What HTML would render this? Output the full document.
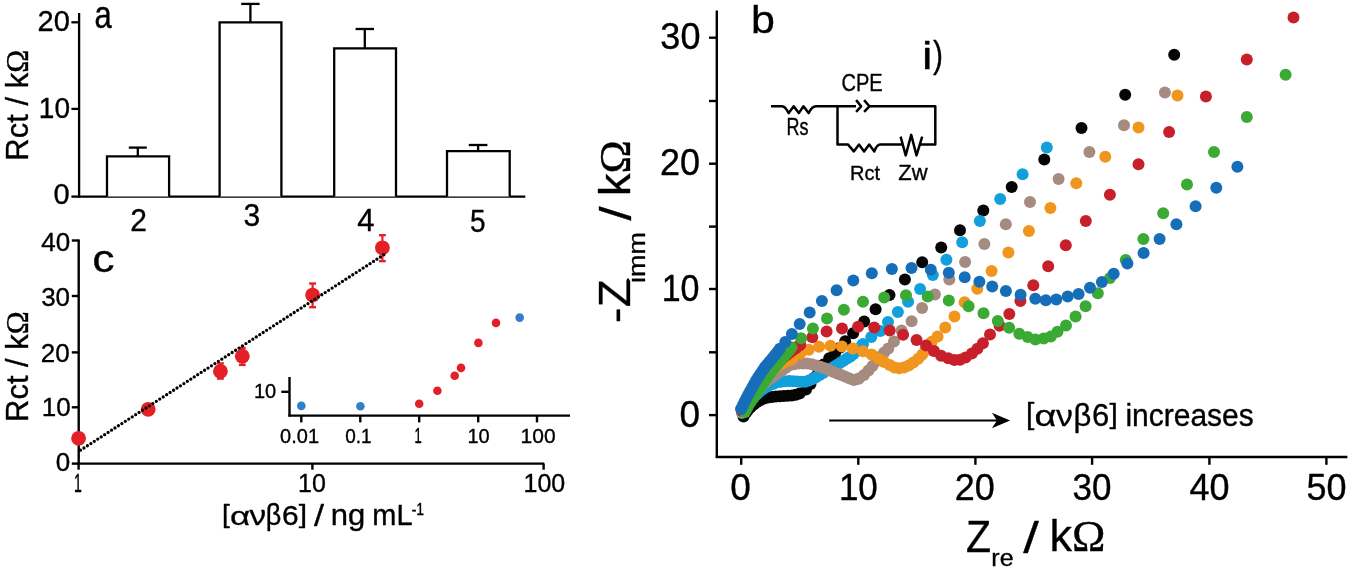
<!DOCTYPE html><html><head><meta charset="utf-8"><style>html,body{margin:0;padding:0;background:#fff;overflow:hidden}svg{display:block;will-change:transform}</style></head><body>
<svg width="1350" height="570" viewBox="0 0 1350 570" style="font-family:'Liberation Sans',sans-serif">
<rect width="1350" height="570" fill="#fff"/>
<g stroke="#000" stroke-width="2.3" fill="none" stroke-linecap="butt">
<line x1="79.1" y1="13" x2="79.1" y2="197.6"/>
<line x1="71.4" y1="22.3" x2="79.1" y2="22.3"/>
<line x1="71.4" y1="108.9" x2="79.1" y2="108.9"/>
<line x1="71.4" y1="196.6" x2="79.1" y2="196.6"/>
<line x1="78.1" y1="196.6" x2="525.3" y2="196.6"/>
<path d="M107 196.6 V156.3 H169.1 V196.6" fill="#fff"/>
<line x1="137.8" y1="156.3" x2="137.8" y2="147.6"/>
<line x1="128.8" y1="147.6" x2="146.8" y2="147.6"/>
<path d="M219.6 196.6 V22.3 H281.4 V196.6" fill="#fff"/>
<line x1="250.4" y1="22.3" x2="250.4" y2="3.9"/>
<line x1="241.2" y1="3.9" x2="259.6" y2="3.9"/>
<path d="M334.2 196.6 V48.3 H396 V196.6" fill="#fff"/>
<line x1="364.8" y1="48.3" x2="364.8" y2="29"/>
<line x1="355.6" y1="29" x2="374" y2="29"/>
<path d="M447 196.6 V151.2 H509.7 V196.6" fill="#fff"/>
<line x1="478.1" y1="151.2" x2="478.1" y2="145"/>
<line x1="468.8" y1="145" x2="487.4" y2="145"/>
</g>
<g stroke="#000" stroke-width="2.4" fill="none">
<line x1="78.7" y1="239.5" x2="78.7" y2="464.6"/>
<line x1="71.8" y1="240.5" x2="78.7" y2="240.5"/>
<line x1="71.8" y1="296" x2="78.7" y2="296"/>
<line x1="71.8" y1="352.4" x2="78.7" y2="352.4"/>
<line x1="71.8" y1="407.3" x2="78.7" y2="407.3"/>
<line x1="71.8" y1="463.6" x2="78.7" y2="463.6"/>
<line x1="77.7" y1="463.6" x2="544.3" y2="463.6"/>
<line x1="78.6" y1="463.6" x2="78.6" y2="469.7"/>
<line x1="312.4" y1="463.6" x2="312.4" y2="469.7"/>
<line x1="543.6" y1="463.6" x2="543.6" y2="469.7"/>
</g>
<g stroke="#e42027" stroke-width="2">
<line x1="220.4" y1="363.4" x2="220.4" y2="378.6" stroke="#e42027" stroke-width="2.2"/>
<line x1="217" y1="363.4" x2="223.8" y2="363.4" stroke="#e42027" stroke-width="2.4"/>
<line x1="217" y1="378.6" x2="223.8" y2="378.6" stroke="#e42027" stroke-width="2.4"/>
<line x1="242.3" y1="347.9" x2="242.3" y2="364.9" stroke="#e42027" stroke-width="2.2"/>
<line x1="238.9" y1="347.9" x2="245.7" y2="347.9" stroke="#e42027" stroke-width="2.4"/>
<line x1="238.9" y1="364.9" x2="245.7" y2="364.9" stroke="#e42027" stroke-width="2.4"/>
<line x1="312.6" y1="283.5" x2="312.6" y2="307.2" stroke="#e42027" stroke-width="2.2"/>
<line x1="309.2" y1="283.5" x2="316" y2="283.5" stroke="#e42027" stroke-width="2.4"/>
<line x1="309.2" y1="307.2" x2="316" y2="307.2" stroke="#e42027" stroke-width="2.4"/>
<line x1="382.4" y1="235.2" x2="382.4" y2="261.1" stroke="#e42027" stroke-width="2.2"/>
<line x1="379" y1="235.2" x2="385.8" y2="235.2" stroke="#e42027" stroke-width="2.4"/>
<line x1="379" y1="261.1" x2="385.8" y2="261.1" stroke="#e42027" stroke-width="2.4"/>
</g>
<circle cx="78.6" cy="438.3" r="7.4" fill="#e42027"/>
<circle cx="148.2" cy="409.3" r="7.4" fill="#e42027"/>
<circle cx="220.4" cy="371.3" r="7.4" fill="#e42027"/>
<circle cx="242.3" cy="356.2" r="7.4" fill="#e42027"/>
<circle cx="312.6" cy="295.1" r="7.4" fill="#e42027"/>
<circle cx="382.4" cy="247.8" r="7.4" fill="#e42027"/>
<line x1="80.5" y1="450.2" x2="385.3" y2="253.8" stroke="#000" stroke-width="3.3" stroke-linecap="round" stroke-dasharray="0 4.1"/>
<g stroke="#000" stroke-width="2.4" fill="none">
<line x1="289.5" y1="377" x2="289.5" y2="416.6"/>
<line x1="281.3" y1="391.8" x2="289.5" y2="391.8"/>
<line x1="288.5" y1="415.6" x2="570" y2="415.6"/>
<line x1="301.3" y1="415.6" x2="301.3" y2="422.4"/>
<line x1="360.3" y1="415.6" x2="360.3" y2="422.4"/>
<line x1="419.2" y1="415.6" x2="419.2" y2="422.4"/>
<line x1="478.2" y1="415.6" x2="478.2" y2="422.4"/>
<line x1="537" y1="415.6" x2="537" y2="422.4"/>
</g>
<circle cx="301.3" cy="405.9" r="4.3" fill="#3080c8"/>
<circle cx="360.4" cy="406.2" r="4.3" fill="#3080c8"/>
<circle cx="519.7" cy="317.6" r="4.3" fill="#3080c8"/>
<circle cx="419.2" cy="403.7" r="4.3" fill="#e42027"/>
<circle cx="437.4" cy="390.8" r="4.3" fill="#e42027"/>
<circle cx="454.7" cy="375.8" r="4.3" fill="#e42027"/>
<circle cx="461" cy="367.9" r="4.3" fill="#e42027"/>
<circle cx="478.4" cy="342.9" r="4.3" fill="#e42027"/>
<circle cx="496" cy="322.9" r="4.3" fill="#e42027"/>
<g stroke="#000" stroke-width="2.4" fill="none">
<line x1="716.8" y1="10.5" x2="716.8" y2="458"/>
<line x1="709" y1="37.7" x2="716.8" y2="37.7"/>
<line x1="709" y1="101" x2="716.8" y2="101"/>
<line x1="709" y1="163.7" x2="716.8" y2="163.7"/>
<line x1="709" y1="226.6" x2="716.8" y2="226.6"/>
<line x1="709" y1="289" x2="716.8" y2="289"/>
<line x1="709" y1="352.3" x2="716.8" y2="352.3"/>
<line x1="709" y1="415.1" x2="716.8" y2="415.1"/>
<line x1="715.8" y1="457" x2="1347.4" y2="457"/>
<line x1="741.2" y1="457" x2="741.2" y2="464.8"/>
<line x1="858.3" y1="457" x2="858.3" y2="464.8"/>
<line x1="975.4" y1="457" x2="975.4" y2="464.8"/>
<line x1="1092.1" y1="457" x2="1092.1" y2="464.8"/>
<line x1="1209.4" y1="457" x2="1209.4" y2="464.8"/>
<line x1="1326.4" y1="457" x2="1326.4" y2="464.8"/>
</g>
<g stroke="#000" stroke-width="2.5" fill="none" stroke-linejoin="round" stroke-linecap="butt">
<path d="M771 106.3 H782.2 Q785 106.3 788.7 113.1 L793.7 106.2 L798.8 113.1 L803.5 106.2 L808.6 113.1 Q812 106.3 816 106.3 H856"/>
<path d="M837.5 106.3 V144.6 H848.1 L853.8 151.4 L859 144.6 L864.1 151.4 L869.2 144.6 L874.3 151.4 Q877 144.6 880 144.6 H902.5"/>
<path d="M900.6 136.6 L905.7 155.4 L911.2 134.9 L916.5 155.4 L922.2 136.6"/>
<path d="M920 144.6 H935.3 V106.3 H869.6"/>
<path d="M856.1 100.1 L861.1 106.3 L856.1 111.9 M864.1 100.1 L869.4 106.3 L864.1 111.9"/>
</g>
<line x1="829.2" y1="420.5" x2="998" y2="420.5" stroke="#000" stroke-width="1.9"/>
<path d="M1010.1 420.5 L991.9 412.8 L997 420.5 L991.9 428.2 Z" fill="#000"/>
<g fill="#050505">
<circle cx="743.5" cy="416.5" r="6.0"/>
<circle cx="745.65" cy="413.13" r="6.0"/>
<circle cx="748.05" cy="409.95" r="6.0"/>
<circle cx="750.88" cy="407.12" r="6.0"/>
<circle cx="753.85" cy="404.46" r="6.0"/>
<circle cx="756.92" cy="401.9" r="6.0"/>
<circle cx="760.39" cy="399.98" r="6.0"/>
<circle cx="764.07" cy="398.4" r="6.0"/>
<circle cx="767.95" cy="397.56" r="6.0"/>
<circle cx="771.91" cy="396.96" r="6.0"/>
<circle cx="775.87" cy="396.46" r="6.0"/>
<circle cx="779.87" cy="396.26" r="6.0"/>
<circle cx="783.86" cy="396.06" r="6.0"/>
<circle cx="787.85" cy="395.82" r="6.0"/>
<circle cx="791.85" cy="395.57" r="6.0"/>
<circle cx="795.73" cy="394.72" r="6.0"/>
<circle cx="799.58" cy="393.62" r="6.0"/>
<circle cx="806" cy="389.5" r="6.0"/>
<circle cx="810.5" cy="384" r="6.0"/>
<circle cx="814.7" cy="377.5" r="6.0"/>
<circle cx="818.5" cy="371.5" r="6.0"/>
<circle cx="823.5" cy="364.5" r="6.0"/>
<circle cx="829.2" cy="358.2" r="6.0"/>
<circle cx="835" cy="353.5" r="6.0"/>
<circle cx="840.5" cy="347.5" r="6.0"/>
<circle cx="845.2" cy="341.2" r="6.0"/>
<circle cx="853.1" cy="333.2" r="6.0"/>
<circle cx="864.2" cy="321.6" r="6.0"/>
<circle cx="875.6" cy="309.3" r="6.0"/>
<circle cx="889.5" cy="295" r="6.0"/>
<circle cx="904.9" cy="279.6" r="6.0"/>
<circle cx="922.2" cy="262.3" r="6.0"/>
<circle cx="941.2" cy="247.6" r="6.0"/>
<circle cx="960" cy="230.3" r="6.0"/>
<circle cx="983.3" cy="210.5" r="6.0"/>
<circle cx="1011.7" cy="186.9" r="6.0"/>
<circle cx="1044.3" cy="159.6" r="6.0"/>
<circle cx="1081.5" cy="128.1" r="6.0"/>
<circle cx="1125.2" cy="94.7" r="6.0"/>
<circle cx="1174.2" cy="54.7" r="6.0"/>
</g>
<g fill="#12a0dc">
<circle cx="742" cy="413" r="6.0"/>
<circle cx="744.22" cy="409.67" r="6.0"/>
<circle cx="746.46" cy="406.36" r="6.0"/>
<circle cx="748.78" cy="403.1" r="6.0"/>
<circle cx="751.13" cy="399.87" r="6.0"/>
<circle cx="753.96" cy="397.04" r="6.0"/>
<circle cx="756.79" cy="394.21" r="6.0"/>
<circle cx="759.84" cy="391.63" r="6.0"/>
<circle cx="762.92" cy="389.07" r="6.0"/>
<circle cx="766.38" cy="387.07" r="6.0"/>
<circle cx="769.85" cy="385.08" r="6.0"/>
<circle cx="773.59" cy="383.66" r="6.0"/>
<circle cx="777.33" cy="382.25" r="6.0"/>
<circle cx="781.26" cy="381.64" r="6.0"/>
<circle cx="785.24" cy="381.2" r="6.0"/>
<circle cx="789.23" cy="381.12" r="6.0"/>
<circle cx="793.22" cy="381.35" r="6.0"/>
<circle cx="797.21" cy="381.58" r="6.0"/>
<circle cx="801.21" cy="381.83" r="6.0"/>
<circle cx="805.15" cy="381.67" r="6.0"/>
<circle cx="809" cy="380.57" r="6.0"/>
<circle cx="812.67" cy="379.05" r="6.0"/>
<circle cx="816.14" cy="377.06" r="6.0"/>
<circle cx="819.58" cy="375.02" r="6.0"/>
<circle cx="822.97" cy="372.9" r="6.0"/>
<circle cx="826.38" cy="370.8" r="6.0"/>
<circle cx="829.92" cy="368.96" r="6.0"/>
<circle cx="833.47" cy="367.11" r="6.0"/>
<circle cx="836.93" cy="365.1" r="6.0"/>
<circle cx="840.24" cy="362.87" r="6.0"/>
<circle cx="843.57" cy="360.66" r="6.0"/>
<circle cx="847" cy="358.6" r="6.0"/>
<circle cx="850.43" cy="356.54" r="6.0"/>
<circle cx="853.49" cy="353.97" r="6.0"/>
<circle cx="856.55" cy="351.38" r="6.0"/>
<circle cx="859.22" cy="348.41" r="6.0"/>
<circle cx="861.82" cy="345.38" r="6.0"/>
<circle cx="863" cy="344" r="6.0"/>
<circle cx="871.3" cy="337" r="6.0"/>
<circle cx="880.3" cy="331" r="6.0"/>
<circle cx="888" cy="322" r="6.0"/>
<circle cx="897.9" cy="311.9" r="6.0"/>
<circle cx="908.1" cy="301.8" r="6.0"/>
<circle cx="920.1" cy="289.1" r="6.0"/>
<circle cx="932.8" cy="275.1" r="6.0"/>
<circle cx="946.4" cy="259.7" r="6.0"/>
<circle cx="962.2" cy="242.3" r="6.0"/>
<circle cx="979.9" cy="221.1" r="6.0"/>
<circle cx="1000.2" cy="198.9" r="6.0"/>
<circle cx="1022.6" cy="174.3" r="6.0"/>
<circle cx="1046.8" cy="147.4" r="6.0"/>
</g>
<g fill="#a68b80">
<circle cx="742" cy="412" r="6.0"/>
<circle cx="744.5" cy="408.26" r="6.0"/>
<circle cx="746.99" cy="404.51" r="6.0"/>
<circle cx="749.61" cy="400.85" r="6.0"/>
<circle cx="752.31" cy="397.25" r="6.0"/>
<circle cx="755.1" cy="393.72" r="6.0"/>
<circle cx="758.02" cy="390.31" r="6.0"/>
<circle cx="761.04" cy="386.96" r="6.0"/>
<circle cx="764.22" cy="383.78" r="6.0"/>
<circle cx="767.46" cy="380.67" r="6.0"/>
<circle cx="771.12" cy="378.06" r="6.0"/>
<circle cx="774.78" cy="375.44" r="6.0"/>
<circle cx="778.44" cy="372.83" r="6.0"/>
<circle cx="782.13" cy="370.25" r="6.0"/>
<circle cx="785.88" cy="367.75" r="6.0"/>
<circle cx="789.62" cy="365.25" r="6.0"/>
<circle cx="793.97" cy="364.25" r="6.0"/>
<circle cx="798.4" cy="363.5" r="6.0"/>
<circle cx="802.9" cy="363.45" r="6.0"/>
<circle cx="807.4" cy="363.48" r="6.0"/>
<circle cx="811.81" cy="364.36" r="6.0"/>
<circle cx="816.18" cy="365.39" r="6.0"/>
<circle cx="820.46" cy="366.78" r="6.0"/>
<circle cx="824.72" cy="368.23" r="6.0"/>
<circle cx="828.82" cy="370.07" r="6.0"/>
<circle cx="832.96" cy="371.85" r="6.0"/>
<circle cx="837.18" cy="373.39" r="6.0"/>
<circle cx="841.41" cy="374.95" r="6.0"/>
<circle cx="845.49" cy="376.84" r="6.0"/>
<circle cx="849.65" cy="378.55" r="6.0"/>
<circle cx="853.91" cy="379.97" r="6.0"/>
<circle cx="858.22" cy="378.73" r="6.0"/>
<circle cx="859" cy="378.5" r="6.0"/>
<circle cx="864" cy="375" r="6.0"/>
<circle cx="868.5" cy="370.5" r="6.0"/>
<circle cx="872.5" cy="366" r="6.0"/>
<circle cx="876.5" cy="361" r="6.0"/>
<circle cx="880.5" cy="356.5" r="6.0"/>
<circle cx="884.2" cy="352.6" r="6.0"/>
<circle cx="888.3" cy="348.6" r="6.0"/>
<circle cx="894" cy="341.6" r="6.0"/>
<circle cx="901.6" cy="330.5" r="6.0"/>
<circle cx="911.6" cy="321.2" r="6.0"/>
<circle cx="922.1" cy="308.1" r="6.0"/>
<circle cx="934.9" cy="294.4" r="6.0"/>
<circle cx="949.3" cy="279.5" r="6.0"/>
<circle cx="965.1" cy="261.9" r="6.0"/>
<circle cx="984.4" cy="243.9" r="6.0"/>
<circle cx="1005.8" cy="224.2" r="6.0"/>
<circle cx="1030" cy="202.1" r="6.0"/>
<circle cx="1058.6" cy="178.9" r="6.0"/>
<circle cx="1089.4" cy="152" r="6.0"/>
<circle cx="1124" cy="125.2" r="6.0"/>
<circle cx="1164.9" cy="92.4" r="6.0"/>
</g>
<g fill="#f0961e">
<circle cx="742" cy="412" r="6.0"/>
<circle cx="743.98" cy="408.53" r="6.0"/>
<circle cx="745.97" cy="405.05" r="6.0"/>
<circle cx="748.09" cy="401.66" r="6.0"/>
<circle cx="750.21" cy="398.27" r="6.0"/>
<circle cx="752.5" cy="395" r="6.0"/>
<circle cx="754.9" cy="391.8" r="6.0"/>
<circle cx="757.3" cy="388.6" r="6.0"/>
<circle cx="759.7" cy="385.4" r="6.0"/>
<circle cx="762.1" cy="382.2" r="6.0"/>
<circle cx="764.63" cy="379.1" r="6.0"/>
<circle cx="767.23" cy="376.06" r="6.0"/>
<circle cx="769.91" cy="373.09" r="6.0"/>
<circle cx="772.74" cy="370.26" r="6.0"/>
<circle cx="775.66" cy="367.56" r="6.0"/>
<circle cx="778.99" cy="365.34" r="6.0"/>
<circle cx="782.42" cy="363.29" r="6.0"/>
<circle cx="786" cy="361.5" r="6.0"/>
<circle cx="789.69" cy="359.98" r="6.0"/>
<circle cx="792.3" cy="359" r="6.0"/>
<circle cx="800.3" cy="353.7" r="6.0"/>
<circle cx="808.8" cy="349.7" r="6.0"/>
<circle cx="819.1" cy="346.8" r="6.0"/>
<circle cx="830.5" cy="345.8" r="6.0"/>
<circle cx="841.9" cy="346.4" r="6.0"/>
<circle cx="852.9" cy="348.6" r="6.0"/>
<circle cx="863" cy="351.2" r="6.0"/>
<circle cx="871.6" cy="354.5" r="6.0"/>
<circle cx="878.7" cy="358.7" r="6.0"/>
<circle cx="884.2" cy="361.9" r="6.0"/>
<circle cx="889.7" cy="365" r="6.0"/>
<circle cx="894.5" cy="367.4" r="6.0"/>
<circle cx="899.2" cy="368.2" r="6.0"/>
<circle cx="904" cy="367.4" r="6.0"/>
<circle cx="908.7" cy="365.4" r="6.0"/>
<circle cx="913.4" cy="362.6" r="6.0"/>
<circle cx="918.2" cy="358.7" r="6.0"/>
<circle cx="922.1" cy="354.7" r="6.0"/>
<circle cx="925.3" cy="350.8" r="6.0"/>
<circle cx="928.5" cy="346.3" r="6.0"/>
<circle cx="931.7" cy="341.8" r="6.0"/>
<circle cx="937.6" cy="336.6" r="6.0"/>
<circle cx="945.3" cy="327.4" r="6.0"/>
<circle cx="954.5" cy="316.4" r="6.0"/>
<circle cx="964.6" cy="302.3" r="6.0"/>
<circle cx="977.3" cy="288.7" r="6.0"/>
<circle cx="991.6" cy="271.1" r="6.0"/>
<circle cx="1008.4" cy="252.4" r="6.0"/>
<circle cx="1028.9" cy="230.9" r="6.0"/>
<circle cx="1050.4" cy="208" r="6.0"/>
<circle cx="1076.3" cy="183.2" r="6.0"/>
<circle cx="1105.3" cy="156.8" r="6.0"/>
<circle cx="1138.5" cy="127.5" r="6.0"/>
<circle cx="1177.5" cy="95.6" r="6.0"/>
</g>
<g fill="#c8202a">
<circle cx="742" cy="411" r="6.0"/>
<circle cx="743.79" cy="407.42" r="6.0"/>
<circle cx="745.58" cy="403.84" r="6.0"/>
<circle cx="747.62" cy="400.41" r="6.0"/>
<circle cx="749.74" cy="397.02" r="6.0"/>
<circle cx="751.9" cy="393.65" r="6.0"/>
<circle cx="754.12" cy="390.32" r="6.0"/>
<circle cx="756.34" cy="386.99" r="6.0"/>
<circle cx="758.68" cy="383.76" r="6.0"/>
<circle cx="761.08" cy="380.56" r="6.0"/>
<circle cx="763.53" cy="377.39" r="6.0"/>
<circle cx="766.16" cy="374.38" r="6.0"/>
<circle cx="768.8" cy="371.37" r="6.0"/>
<circle cx="771.54" cy="368.46" r="6.0"/>
<circle cx="774.37" cy="365.63" r="6.0"/>
<circle cx="777.21" cy="362.82" r="6.0"/>
<circle cx="780.25" cy="360.22" r="6.0"/>
<circle cx="783.28" cy="357.61" r="6.0"/>
<circle cx="786.44" cy="355.17" r="6.0"/>
<circle cx="789.64" cy="352.77" r="6.0"/>
<circle cx="792.85" cy="350.37" r="6.0"/>
<circle cx="796.05" cy="347.97" r="6.0"/>
<circle cx="799.26" cy="345.58" r="6.0"/>
<circle cx="800.3" cy="344.8" r="6.0"/>
<circle cx="812.3" cy="337.3" r="6.0"/>
<circle cx="826.6" cy="331.5" r="6.0"/>
<circle cx="842" cy="328.4" r="6.0"/>
<circle cx="858.1" cy="326.8" r="6.0"/>
<circle cx="874.2" cy="327.4" r="6.0"/>
<circle cx="889.7" cy="330.6" r="6.0"/>
<circle cx="903.1" cy="334.8" r="6.0"/>
<circle cx="916.6" cy="340" r="6.0"/>
<circle cx="926.1" cy="345.5" r="6.0"/>
<circle cx="934" cy="351.1" r="6.0"/>
<circle cx="941.1" cy="355.8" r="6.0"/>
<circle cx="948.2" cy="358.2" r="6.0"/>
<circle cx="954.5" cy="360.1" r="6.0"/>
<circle cx="960" cy="359.8" r="6.0"/>
<circle cx="965.6" cy="357.4" r="6.0"/>
<circle cx="971.9" cy="353.4" r="6.0"/>
<circle cx="977.4" cy="348.7" r="6.0"/>
<circle cx="982.9" cy="343.2" r="6.0"/>
<circle cx="990" cy="334.5" r="6.0"/>
<circle cx="999.6" cy="325.8" r="6.0"/>
<circle cx="1009.3" cy="314" r="6.0"/>
<circle cx="1020.4" cy="301.1" r="6.0"/>
<circle cx="1033.3" cy="285.3" r="6.0"/>
<circle cx="1048.2" cy="266.3" r="6.0"/>
<circle cx="1065.8" cy="245.3" r="6.0"/>
<circle cx="1085.8" cy="221.1" r="6.0"/>
<circle cx="1109.9" cy="194.7" r="6.0"/>
<circle cx="1138.5" cy="164.2" r="6.0"/>
<circle cx="1169.1" cy="132" r="6.0"/>
<circle cx="1205.9" cy="96.6" r="6.0"/>
<circle cx="1246.8" cy="59.5" r="6.0"/>
<circle cx="1293.5" cy="17.5" r="6.0"/>
</g>
<g fill="#3aaa35">
<circle cx="745" cy="412" r="6.0"/>
<circle cx="746.79" cy="408.42" r="6.0"/>
<circle cx="748.72" cy="404.93" r="6.0"/>
<circle cx="750.94" cy="401.6" r="6.0"/>
<circle cx="753.15" cy="398.27" r="6.0"/>
<circle cx="755.37" cy="394.94" r="6.0"/>
<circle cx="757.59" cy="391.61" r="6.0"/>
<circle cx="759.81" cy="388.28" r="6.0"/>
<circle cx="762.03" cy="384.96" r="6.0"/>
<circle cx="764.25" cy="381.63" r="6.0"/>
<circle cx="766.47" cy="378.3" r="6.0"/>
<circle cx="768.77" cy="375.03" r="6.0"/>
<circle cx="771.27" cy="371.91" r="6.0"/>
<circle cx="773.77" cy="368.79" r="6.0"/>
<circle cx="776.27" cy="365.66" r="6.0"/>
<circle cx="778.77" cy="362.54" r="6.0"/>
<circle cx="781.35" cy="359.49" r="6.0"/>
<circle cx="784" cy="356.5" r="6.0"/>
<circle cx="786.66" cy="353.51" r="6.0"/>
<circle cx="789.16" cy="350.39" r="6.0"/>
<circle cx="791.5" cy="347.14" r="6.0"/>
<circle cx="801.1" cy="338.2" r="6.0"/>
<circle cx="812.9" cy="328.4" r="6.0"/>
<circle cx="827" cy="318.6" r="6.0"/>
<circle cx="843.9" cy="309.8" r="6.0"/>
<circle cx="863" cy="301.8" r="6.0"/>
<circle cx="884.2" cy="297.5" r="6.0"/>
<circle cx="906" cy="295.3" r="6.0"/>
<circle cx="927.7" cy="296.5" r="6.0"/>
<circle cx="948.8" cy="300.5" r="6.0"/>
<circle cx="968.6" cy="306.3" r="6.0"/>
<circle cx="983.5" cy="313.3" r="6.0"/>
<circle cx="997.8" cy="321" r="6.0"/>
<circle cx="1009.1" cy="327.7" r="6.0"/>
<circle cx="1019.3" cy="333.8" r="6.0"/>
<circle cx="1027.7" cy="337" r="6.0"/>
<circle cx="1035.4" cy="339.5" r="6.0"/>
<circle cx="1043.7" cy="338.5" r="6.0"/>
<circle cx="1050.8" cy="336.4" r="6.0"/>
<circle cx="1057.5" cy="331.8" r="6.0"/>
<circle cx="1066" cy="325.5" r="6.0"/>
<circle cx="1075.6" cy="316.5" r="6.0"/>
<circle cx="1085.6" cy="306.2" r="6.0"/>
<circle cx="1097.8" cy="293.3" r="6.0"/>
<circle cx="1110" cy="278" r="6.0"/>
<circle cx="1125.7" cy="260" r="6.0"/>
<circle cx="1143.4" cy="238.9" r="6.0"/>
<circle cx="1163.2" cy="213.2" r="6.0"/>
<circle cx="1187" cy="184.6" r="6.0"/>
<circle cx="1214" cy="152" r="6.0"/>
<circle cx="1246.8" cy="117" r="6.0"/>
<circle cx="1285.6" cy="74.7" r="6.0"/>
</g>
<g fill="#166eb8">
<circle cx="741" cy="409" r="6.0"/>
<circle cx="742.79" cy="405.42" r="6.0"/>
<circle cx="744.58" cy="401.84" r="6.0"/>
<circle cx="746.37" cy="398.27" r="6.0"/>
<circle cx="748.16" cy="394.69" r="6.0"/>
<circle cx="750.05" cy="391.17" r="6.0"/>
<circle cx="752.03" cy="387.69" r="6.0"/>
<circle cx="754.02" cy="384.22" r="6.0"/>
<circle cx="756" cy="380.75" r="6.0"/>
<circle cx="758.1" cy="377.35" r="6.0"/>
<circle cx="760.32" cy="374.02" r="6.0"/>
<circle cx="762.54" cy="370.69" r="6.0"/>
<circle cx="764.76" cy="367.36" r="6.0"/>
<circle cx="767.28" cy="364.26" r="6.0"/>
<circle cx="769.84" cy="361.19" r="6.0"/>
<circle cx="772.4" cy="358.12" r="6.0"/>
<circle cx="774.96" cy="355.04" r="6.0"/>
<circle cx="777.4" cy="351.87" r="6.0"/>
<circle cx="779.84" cy="348.7" r="6.0"/>
<circle cx="785.3" cy="342.1" r="6.0"/>
<circle cx="791.9" cy="334.1" r="6.0"/>
<circle cx="799.7" cy="324" r="6.0"/>
<circle cx="809.7" cy="312.6" r="6.0"/>
<circle cx="821.9" cy="301.1" r="6.0"/>
<circle cx="836.6" cy="290.3" r="6.0"/>
<circle cx="853.3" cy="280.6" r="6.0"/>
<circle cx="871.8" cy="273.3" r="6.0"/>
<circle cx="891.9" cy="268.9" r="6.0"/>
<circle cx="911.5" cy="268.1" r="6.0"/>
<circle cx="930.8" cy="269.7" r="6.0"/>
<circle cx="948.8" cy="272.8" r="6.0"/>
<circle cx="964.7" cy="277.3" r="6.0"/>
<circle cx="979.4" cy="281.7" r="6.0"/>
<circle cx="992.2" cy="286.4" r="6.0"/>
<circle cx="1005.9" cy="290.9" r="6.0"/>
<circle cx="1020.6" cy="294.7" r="6.0"/>
<circle cx="1035.3" cy="298.8" r="6.0"/>
<circle cx="1045.8" cy="300.2" r="6.0"/>
<circle cx="1056.3" cy="299.6" r="6.0"/>
<circle cx="1067.7" cy="296.5" r="6.0"/>
<circle cx="1078.6" cy="294" r="6.0"/>
<circle cx="1090" cy="287.7" r="6.0"/>
<circle cx="1101.9" cy="282.1" r="6.0"/>
<circle cx="1113.7" cy="273.7" r="6.0"/>
<circle cx="1127.4" cy="263.6" r="6.0"/>
<circle cx="1143.6" cy="253.1" r="6.0"/>
<circle cx="1159.6" cy="238.9" r="6.0"/>
<circle cx="1176.4" cy="224.2" r="6.0"/>
<circle cx="1195.6" cy="206.3" r="6.0"/>
<circle cx="1216.3" cy="187.8" r="6.0"/>
<circle cx="1237.4" cy="166.8" r="6.0"/>
</g>
<text transform="matrix(0.29 0 0 0.29 37.54 31.41)" font-family='"Liberation Sans", sans-serif' font-weight="normal" font-size="100" fill="#000" stroke="#000" stroke-width="1.19" stroke-linejoin="round">20</text>
<text transform="matrix(0.28 0 0 0.29 38.85 117.91)" font-family='"Liberation Sans", sans-serif' font-weight="normal" font-size="100" fill="#000" stroke="#000" stroke-width="1.22" stroke-linejoin="round">10</text>
<text transform="matrix(0.29 0 0 0.29 53.53 204.01)" font-family='"Liberation Sans", sans-serif' font-weight="normal" font-size="100" fill="#000" stroke="#000" stroke-width="1.2" stroke-linejoin="round">0</text>
<text transform="matrix(0.3 0 0 0.32 130.19 230.7)" font-family='"Liberation Sans", sans-serif' font-weight="normal" font-size="100" fill="#000" stroke="#000" stroke-width="1.13" stroke-linejoin="round">2</text>
<text transform="matrix(0.3 0 0 0.31 243.52 226.49)" font-family='"Liberation Sans", sans-serif' font-weight="normal" font-size="100" fill="#000" stroke="#000" stroke-width="1.15" stroke-linejoin="round">3</text>
<text transform="matrix(0.31 0 0 0.31 357.17 230.8)" font-family='"Liberation Sans", sans-serif' font-weight="normal" font-size="100" fill="#000" stroke="#000" stroke-width="1.12" stroke-linejoin="round">4</text>
<text transform="matrix(0.28 0 0 0.32 469.98 231.78)" font-family='"Liberation Sans", sans-serif' font-weight="normal" font-size="100" fill="#000" stroke="#000" stroke-width="1.17" stroke-linejoin="round">5</text>
<text transform="matrix(0.31 0 0 0.38 94.52 28.22)" font-family='"Liberation Sans", sans-serif' font-weight="normal" font-size="100" fill="#000" stroke="#000" stroke-width="1.03" stroke-linejoin="round">a</text>
<text transform="matrix(0 -0.31 0.32 0 28.18 160.68)" font-family='"Liberation Sans", sans-serif' font-weight="normal" font-size="100" fill="#000" stroke="#000" stroke-width="1.11" stroke-linejoin="round">Rct / k<tspan font-family='"Liberation Serif", serif'>Ω</tspan></text>
<text transform="matrix(0.26 0 0 0.26 41.18 250.64)" font-family='"Liberation Sans", sans-serif' font-weight="normal" font-size="100" fill="#000" stroke="#000" stroke-width="1.34" stroke-linejoin="round">40</text>
<text transform="matrix(0.26 0 0 0.26 41.16 306.14)" font-family='"Liberation Sans", sans-serif' font-weight="normal" font-size="100" fill="#000" stroke="#000" stroke-width="1.34" stroke-linejoin="round">30</text>
<text transform="matrix(0.26 0 0 0.26 40.68 361.54)" font-family='"Liberation Sans", sans-serif' font-weight="normal" font-size="100" fill="#000" stroke="#000" stroke-width="1.33" stroke-linejoin="round">20</text>
<text transform="matrix(0.26 0 0 0.26 41.72 416.44)" font-family='"Liberation Sans", sans-serif' font-weight="normal" font-size="100" fill="#000" stroke="#000" stroke-width="1.35" stroke-linejoin="round">10</text>
<text transform="matrix(0.26 0 0 0.25 55.65 471.05)" font-family='"Liberation Sans", sans-serif' font-weight="normal" font-size="100" fill="#000" stroke="#000" stroke-width="1.35" stroke-linejoin="round">0</text>
<text transform="matrix(0.44 0 0 0.39 92.44 271.61)" font-family='"Liberation Sans", sans-serif' font-weight="normal" font-size="100" fill="#000" stroke="#000" stroke-width="0.84" stroke-linejoin="round">c</text>
<text transform="matrix(0 -0.31 0.32 0 28.18 421.99)" font-family='"Liberation Sans", sans-serif' font-weight="normal" font-size="100" fill="#000" stroke="#000" stroke-width="1.11" stroke-linejoin="round">Rct / k<tspan font-family='"Liberation Serif", serif'>Ω</tspan></text>
<text transform="matrix(0.14 0 0 0.26 73.9 491.8)" font-family='"Liberation Sans", sans-serif' font-weight="normal" font-size="100" fill="#000" stroke="#000" stroke-width="1.83" stroke-linejoin="round">1</text>
<text transform="matrix(0.25 0 0 0.26 298.05 491.74)" font-family='"Liberation Sans", sans-serif' font-weight="normal" font-size="100" fill="#000" stroke="#000" stroke-width="1.37" stroke-linejoin="round">10</text>
<text transform="matrix(0.25 0 0 0.26 523.55 491.64)" font-family='"Liberation Sans", sans-serif' font-weight="normal" font-size="100" fill="#000" stroke="#000" stroke-width="1.37" stroke-linejoin="round">100</text>
<text transform="matrix(0.2 0 0 0.21 253.92 398.19)" font-family='"Liberation Sans", sans-serif' font-weight="normal" font-size="100" fill="#000" stroke="#000" stroke-width="1.73" stroke-linejoin="round">10</text>
<text transform="matrix(0.2 0 0 0.21 280.12 443.09)" font-family='"Liberation Sans", sans-serif' font-weight="normal" font-size="100" fill="#000" stroke="#000" stroke-width="1.72" stroke-linejoin="round">0.01</text>
<text transform="matrix(0.19 0 0 0.21 345.25 443.09)" font-family='"Liberation Sans", sans-serif' font-weight="normal" font-size="100" fill="#000" stroke="#000" stroke-width="1.76" stroke-linejoin="round">0.1</text>
<text transform="matrix(0.13 0 0 0.22 414.39 443.2)" font-family='"Liberation Sans", sans-serif' font-weight="normal" font-size="100" fill="#000" stroke="#000" stroke-width="2.09" stroke-linejoin="round">1</text>
<text transform="matrix(0.2 0 0 0.21 467.47 443.19)" font-family='"Liberation Sans", sans-serif' font-weight="normal" font-size="100" fill="#000" stroke="#000" stroke-width="1.67" stroke-linejoin="round">10</text>
<text transform="matrix(0.21 0 0 0.21 520.55 443.19)" font-family='"Liberation Sans", sans-serif' font-weight="normal" font-size="100" fill="#000" stroke="#000" stroke-width="1.66" stroke-linejoin="round">100</text>
<text transform="matrix(0.36 0 0 0.36 660.36 49.14)" font-family='"Liberation Sans", sans-serif' font-weight="normal" font-size="100" fill="#000" stroke="#000" stroke-width="0.97" stroke-linejoin="round">30</text>
<text transform="matrix(0.36 0 0 0.37 660 175.13)" font-family='"Liberation Sans", sans-serif' font-weight="normal" font-size="100" fill="#000" stroke="#000" stroke-width="0.96" stroke-linejoin="round">20</text>
<text transform="matrix(0.34 0 0 0.37 661.71 301.43)" font-family='"Liberation Sans", sans-serif' font-weight="normal" font-size="100" fill="#000" stroke="#000" stroke-width="0.98" stroke-linejoin="round">10</text>
<text transform="matrix(0.37 0 0 0.37 679.53 427.13)" font-family='"Liberation Sans", sans-serif' font-weight="normal" font-size="100" fill="#000" stroke="#000" stroke-width="0.95" stroke-linejoin="round">0</text>
<text transform="matrix(0.43 0 0 0.39 751.09 32.81)" font-family='"Liberation Sans", sans-serif' font-weight="normal" font-size="100" fill="#000" stroke="#000" stroke-width="0.86" stroke-linejoin="round">b</text>
<text transform="matrix(0.47 0 0 0.38 922.08 69.1)" font-family='"Liberation Sans", sans-serif' font-weight="normal" font-size="100" fill="#000" stroke="#000" stroke-width="0.83" stroke-linejoin="round">i</text>
<text transform="matrix(0.3 0 0 0.36 932.9 66.59)" font-family='"Liberation Sans", sans-serif' font-weight="normal" font-size="100" fill="#000" stroke="#000" stroke-width="1.06" stroke-linejoin="round">)</text>
<text transform="matrix(0.37 0 0 0.37 730.33 500.13)" font-family='"Liberation Sans", sans-serif' font-weight="normal" font-size="100" fill="#000" stroke="#000" stroke-width="0.95" stroke-linejoin="round">0</text>
<text transform="matrix(0.35 0 0 0.37 838.88 500.13)" font-family='"Liberation Sans", sans-serif' font-weight="normal" font-size="100" fill="#000" stroke="#000" stroke-width="0.98" stroke-linejoin="round">10</text>
<text transform="matrix(0.36 0 0 0.37 954.79 500.13)" font-family='"Liberation Sans", sans-serif' font-weight="normal" font-size="100" fill="#000" stroke="#000" stroke-width="0.95" stroke-linejoin="round">20</text>
<text transform="matrix(0.35 0 0 0.37 1072.59 500.13)" font-family='"Liberation Sans", sans-serif' font-weight="normal" font-size="100" fill="#000" stroke="#000" stroke-width="0.97" stroke-linejoin="round">30</text>
<text transform="matrix(0.36 0 0 0.37 1189.48 500.13)" font-family='"Liberation Sans", sans-serif' font-weight="normal" font-size="100" fill="#000" stroke="#000" stroke-width="0.96" stroke-linejoin="round">40</text>
<text transform="matrix(0.36 0 0 0.37 1306.55 500.13)" font-family='"Liberation Sans", sans-serif' font-weight="normal" font-size="100" fill="#000" stroke="#000" stroke-width="0.96" stroke-linejoin="round">50</text>
<text transform="matrix(0.41 0 0 0.45 965.96 551.7)" font-family='"Liberation Sans", sans-serif' font-weight="normal" font-size="100" fill="#000" stroke="#000" stroke-width="0.81" stroke-linejoin="round">Z</text>
<text transform="matrix(0.25 0 0 0.24 991.33 566.46)" font-family='"Liberation Sans", sans-serif' font-weight="normal" font-size="100" fill="#000" stroke="#000" stroke-width="1.43" stroke-linejoin="round">re</text>
<text transform="matrix(0.56 0 0 0.45 1023.3 552.85)" font-family='"Liberation Sans", sans-serif' font-weight="normal" font-size="100" fill="#000" stroke="#000" stroke-width="0.7" stroke-linejoin="round">/</text>
<text transform="matrix(0.45 0 0 0.44 1049.49 551.26)" font-family='"Liberation Sans", sans-serif' font-weight="normal" font-size="100" fill="#000" stroke="#000" stroke-width="0.78" stroke-linejoin="round">k<tspan font-family='"Liberation Serif", serif'>Ω</tspan></text>
<text transform="matrix(0 -0.46 0.41 0 628.59 323.04)" font-family='"Liberation Sans", sans-serif' font-weight="normal" font-size="100" fill="#000" stroke="#000" stroke-width="0.8" stroke-linejoin="round">-</text>
<text transform="matrix(0 -0.46 0.45 0 629.7 307.17)" font-family='"Liberation Sans", sans-serif' font-weight="normal" font-size="100" fill="#000" stroke="#000" stroke-width="0.77" stroke-linejoin="round">Z</text>
<text transform="matrix(0 -0.27 0.24 0 644.9 283.03)" font-family='"Liberation Sans", sans-serif' font-weight="normal" font-size="100" fill="#000" stroke="#000" stroke-width="1.36" stroke-linejoin="round">imm</text>
<text transform="matrix(0 -0.51 0.44 0 631.06 220.6)" font-family='"Liberation Sans", sans-serif' font-weight="normal" font-size="100" fill="#000" stroke="#000" stroke-width="0.73" stroke-linejoin="round">/</text>
<text transform="matrix(0 -0.45 0.44 0 630.06 195.92)" font-family='"Liberation Sans", sans-serif' font-weight="normal" font-size="100" fill="#000" stroke="#000" stroke-width="0.78" stroke-linejoin="round">k<tspan font-family='"Liberation Serif", serif'>Ω</tspan></text>
<text transform="matrix(0.3 0 0 0.31 1125.41 425.59)" font-family='"Liberation Sans", sans-serif' font-weight="normal" font-size="100" fill="#000" stroke="#000" stroke-width="1.16" stroke-linejoin="round">increases</text>
<text transform="matrix(0.2 0 0 0.23 841.59 91.27)" font-family='"Liberation Sans", sans-serif' font-weight="normal" font-size="100" fill="#000" stroke="#000" stroke-width="1.61" stroke-linejoin="round">CPE</text>
<text transform="matrix(0.18 0 0 0.23 786.54 134.87)" font-family='"Liberation Sans", sans-serif' font-weight="normal" font-size="100" fill="#000" stroke="#000" stroke-width="1.73" stroke-linejoin="round">Rs</text>
<text transform="matrix(0.2 0 0 0.21 850 179.79)" font-family='"Liberation Sans", sans-serif' font-weight="normal" font-size="100" fill="#000" stroke="#000" stroke-width="1.69" stroke-linejoin="round">Rct</text>
<text transform="matrix(0.22 0 0 0.22 898.35 180)" font-family='"Liberation Sans", sans-serif' font-weight="normal" font-size="100" fill="#000" stroke="#000" stroke-width="1.6" stroke-linejoin="round">Zw</text>
<text transform="matrix(0.28 0 0 0.26 221.94 523.15)" font-family='"Liberation Sans", sans-serif' font-weight="normal" font-size="100" fill="#000" stroke="#000" stroke-width="1.3" stroke-linejoin="round">[</text>
<text transform="matrix(0.35 0 0 0.26 229.92 525.14)" font-family='"Liberation Sans", sans-serif' font-weight="normal" font-size="100" fill="#000" stroke="#000" stroke-width="1.16" stroke-linejoin="round">α</text>
<text transform="matrix(0.32 0 0 0.28 247.93 525.4)" font-family='"Liberation Mono", monospace' font-weight="normal" font-size="100" fill="#000" stroke="#000" stroke-width="1.18" stroke-linejoin="round">ν</text>
<text transform="matrix(0.27 0 0 0.29 265.79 525.25)" font-family='"Liberation Sans", sans-serif' font-weight="normal" font-size="100" fill="#000" stroke="#000" stroke-width="1.25" stroke-linejoin="round">β</text>
<text transform="matrix(0.3 0 0 0.28 282.01 524.82)" font-family='"Liberation Sans", sans-serif' font-weight="normal" font-size="100" fill="#000" stroke="#000" stroke-width="1.21" stroke-linejoin="round">6</text>
<text transform="matrix(0.3 0 0 0.26 298.7 522.92)" font-family='"Liberation Sans", sans-serif' font-weight="normal" font-size="100" fill="#000" stroke="#000" stroke-width="1.26" stroke-linejoin="round">]</text>
<text transform="matrix(0.36 0 0 0.3 314 525.9)" font-family='"Liberation Sans", sans-serif' font-weight="normal" font-size="100" fill="#000" stroke="#000" stroke-width="1.06" stroke-linejoin="round">/</text>
<text transform="matrix(0.31 0 0 0.29 330.76 525.2)" font-family='"Liberation Sans", sans-serif' font-weight="normal" font-size="100" fill="#000" stroke="#000" stroke-width="1.17" stroke-linejoin="round">ng</text>
<text transform="matrix(0.29 0 0 0.3 372.28 525)" font-family='"Liberation Sans", sans-serif' font-weight="normal" font-size="100" fill="#000" stroke="#000" stroke-width="1.2" stroke-linejoin="round">mL</text>
<text transform="matrix(0.14 0 0 0.17 411.63 514.8)" font-family='"Liberation Sans", sans-serif' font-weight="normal" font-size="100" fill="#000" stroke="#000" stroke-width="2.26" stroke-linejoin="round">-1</text>
<text transform="matrix(0.3 0 0 0.29 1026 423.59)" font-family='"Liberation Sans", sans-serif' font-weight="normal" font-size="100" fill="#000" stroke="#000" stroke-width="1.19" stroke-linejoin="round">[</text>
<text transform="matrix(0.38 0 0 0.29 1034.49 425.51)" font-family='"Liberation Sans", sans-serif' font-weight="normal" font-size="100" fill="#000" stroke="#000" stroke-width="1.06" stroke-linejoin="round">α</text>
<text transform="matrix(0.32 0 0 0.3 1054.71 425.8)" font-family='"Liberation Mono", monospace' font-weight="normal" font-size="100" fill="#000" stroke="#000" stroke-width="1.13" stroke-linejoin="round">ν</text>
<text transform="matrix(0.31 0 0 0.32 1073.4 425.76)" font-family='"Liberation Sans", sans-serif' font-weight="normal" font-size="100" fill="#000" stroke="#000" stroke-width="1.11" stroke-linejoin="round">β</text>
<text transform="matrix(0.31 0 0 0.32 1092.06 425.78)" font-family='"Liberation Sans", sans-serif' font-weight="normal" font-size="100" fill="#000" stroke="#000" stroke-width="1.12" stroke-linejoin="round">6</text>
<text transform="matrix(0.3 0 0 0.28 1109.4 423.36)" font-family='"Liberation Sans", sans-serif' font-weight="normal" font-size="100" fill="#000" stroke="#000" stroke-width="1.2" stroke-linejoin="round">]</text>
</svg></body></html>
